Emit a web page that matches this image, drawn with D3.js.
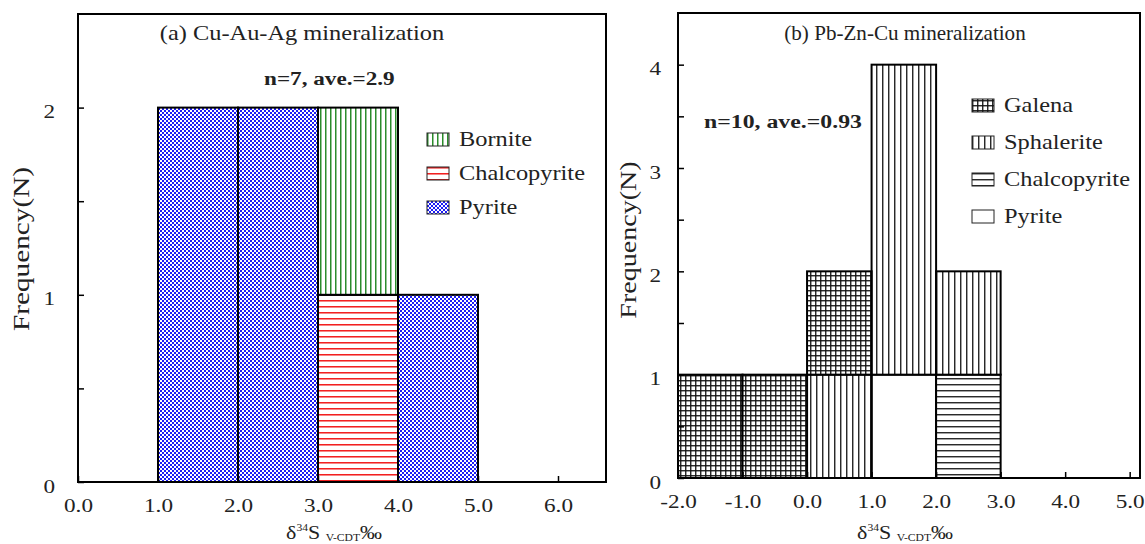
<!DOCTYPE html>
<html>
<head>
<meta charset="utf-8">
<script src="https://cdn.jsdelivr.net/npm/d3@7"></script>
<style>
  body { margin: 0; background: #fff; }
  text { font-family: "Liberation Serif", "DejaVu Serif", serif; fill: #222; }
</style>
</head>
<body>
<script>
// panel (a) Cu-Au-Ag mineralization, bins of 1 per mil
var aBinStarts = [1, 2, 3, 4];
var aChalcopyrite = [0, 0, 1, 0];
var aBornite = [0, 0, 1, 0];
var aPyrite = [2, 2, 0, 1];
var aXTicks = [0, 1, 2, 3, 4, 5, 6];
var aYTicks = [0, 0.5, 1, 1.5, 2];

// panel (b) Pb-Zn-Cu mineralization
var bBinStarts = [-2, -1, 0, 1, 2];
var bPyrite = [0, 0, 0, 1, 0];
var bChalcopyrite = [0, 0, 0, 0, 1];
var bSphalerite = [0, 0, 1, 3, 1];
var bGalena = [1, 1, 1, 0, 0];
var bXTicks = [-2, -1, 0, 1, 2, 3, 4, 5];
var bYTicks = [0, 0.5, 1, 1.5, 2, 2.5, 3, 3.5, 4];

var SX = 1.22; // the original lettering is a little wider than Liberation Serif

window.onload = function(){
    var svg = d3.select("body").append("svg")
        .attr("width", 1145)
        .attr("height", 544);

    var defs = svg.append("defs");

    // fill patterns
    function linePattern(id, color, step, dir, width){
        var p = defs.append("pattern").attr("id", id)
            .attr("patternUnits", "userSpaceOnUse")
            .attr("width", step).attr("height", step);
        p.append("rect").attr("width", step).attr("height", step).attr("fill", "#fff");
        if (dir === "v" || dir === "grid")
            p.append("line").attr("x1", 0.75).attr("x2", 0.75).attr("y1", 0).attr("y2", step)
                .attr("stroke", color).attr("stroke-width", width);
        if (dir === "h" || dir === "grid")
            p.append("line").attr("y1", 0.75).attr("y2", 0.75).attr("x1", 0).attr("x2", step)
                .attr("stroke", color).attr("stroke-width", width);
    }
    linePattern("bornite", "#2b8c2b", 5, "v", 1.5);
    linePattern("chalcoRed", "#f22020", 6, "h", 1.6);
    linePattern("galena", "#111", 5, "grid", 1.3);
    linePattern("sphalerite", "#111", 6, "v", 1.3);
    linePattern("chalcoBlack", "#111", 6, "h", 1.3);
    linePattern("white", "#fff", 4, "none", 0);

    var checker = defs.append("pattern").attr("id", "pyriteBlue")
        .attr("patternUnits", "userSpaceOnUse").attr("width", 4).attr("height", 4);
    checker.append("rect").attr("width", 4).attr("height", 4).attr("fill", "#1c1cf5");
    checker.append("rect").attr("width", 2).attr("height", 2).attr("fill", "#fff");
    checker.append("rect").attr("x", 2).attr("y", 2).attr("width", 2).attr("height", 2).attr("fill", "#fff");

    // put a text at x,y stretched horizontally
    function label(g, x, y, size, str, anchor, rot, sx){
        return g.append("text")
            .attr("transform", "translate(" + x + "," + y + ")" + (rot ? " rotate(" + rot + ")" : "") + " scale(" + (sx || SX) + ",1)")
            .attr("text-anchor", anchor || "start")
            .style("font-size", size + "px")
            .text(str);
    }

    function drawPanel(cfg){
        var x = d3.scaleLinear().domain(cfg.xDomain).range([cfg.left, cfg.right]);
        var y = d3.scaleLinear().domain(cfg.yDomain).range([cfg.bottom, cfg.top]);
        var g = svg.append("g");

        // stacked histogram bars
        var rows = cfg.bins.map(function(b, i){
            var r = {start: b};
            cfg.series.forEach(function(s){ r[s.key] = s.values[i]; });
            return r;
        });
        var stack = d3.stack().keys(cfg.series.map(function(s){ return s.key; }))(rows);
        stack.forEach(function(layer, li){
            g.selectAll(".bar" + li)
                .data(layer.filter(function(d){ return d[1] > d[0]; }))
                .enter().append("rect")
                .attr("x", function(d){ return x(d.data.start); })
                .attr("width", function(d){ return x(d.data.start + 1) - x(d.data.start); })
                .attr("y", function(d){ return y(d[1]); })
                .attr("height", function(d){ return y(d[0]) - y(d[1]); })
                .attr("fill", "url(#" + cfg.series[li].pattern + ")")
                .attr("stroke", "#000")
                .attr("stroke-width", 2);
        });

        // axes with inward ticks
        var xAxis = d3.axisBottom(x).tickValues(cfg.xTicks).tickSize(-6).tickPadding(0)
            .tickFormat(function(d){ return d.toFixed(1); });
        var gx = g.append("g").attr("transform", "translate(0," + cfg.bottom + ")").call(xAxis);
        var yAxis = d3.axisLeft(y).tickValues(cfg.yTicks).tickSize(-6).tickPadding(0)
            .tickFormat(function(d){ return d % 1 === 0 ? d : ""; });
        var gy = g.append("g").attr("transform", "translate(" + cfg.left + ",0)").call(yAxis);
        [gx, gy].forEach(function(a){
            a.select(".domain").remove();
            a.selectAll(".tick line").attr("stroke", "#000").attr("stroke-width", 1.5);
            a.selectAll(".tick text").style("font-family", "Liberation Serif")
                .style("font-size", "19px").attr("fill", "#222");
        });
        gx.selectAll(".tick text").attr("y", 0).attr("dy", 0)
            .attr("transform", "translate(0,30) scale(" + SX + ",1)");
        gy.selectAll(".tick text").attr("x", 0).attr("dy", 0)
            .attr("transform", "translate(" + (-cfg.yPad) + ",10) scale(" + SX + ",1)");

        // frame
        g.append("rect")
            .attr("x", cfg.left).attr("y", cfg.top)
            .attr("width", cfg.right - cfg.left).attr("height", cfg.bottom - cfg.top)
            .attr("fill", "none").attr("stroke", "#000").attr("stroke-width", 2);

        // titles
        label(g, cfg.titleX, 40, cfg.titleSize, cfg.title, "middle", 0, cfg.titleSX);
        label(g, cfg.noteX, cfg.noteY, cfg.noteSize, cfg.note).style("font-weight", "bold");

        // y axis label
        label(g, cfg.yLabelX, cfg.yLabelY, cfg.yLabelSize, "Frequency(N)", "middle", -90);

        // x axis label: delta 34 S V-CDT per mil
        var xl = label(g, cfg.xLabelX, 539, 18, "", "middle");
        xl.append("tspan").text("δ");
        xl.append("tspan").attr("dy", -8).style("font-size", "9.5px").text("34");
        xl.append("tspan").attr("dy", 8).text("S ");
        xl.append("tspan").attr("dy", 2).style("font-size", "9.5px").text("V-CDT");
        xl.append("tspan").attr("dy", -2).text("‰");

        // legend
        var leg = g.selectAll(".leg").data(cfg.legend).enter().append("g")
            .attr("transform", function(d, i){ return "translate(" + cfg.legX + "," + (cfg.legY + i * cfg.legStep) + ")"; });
        leg.append("rect").attr("x", 0).attr("y", -6).attr("width", 22).attr("height", 13)
            .attr("fill", function(d){ return "url(#" + d.pattern + ")"; })
            .attr("stroke", "#222").attr("stroke-width", 1);
        leg.each(function(d){ label(d3.select(this), 32, 7, 20, d.name); });
    }

    drawPanel({
        left: 78, right: 606, top: 14, bottom: 482,
        xDomain: [0, 6.6], yDomain: [0, 2.5],
        xTicks: aXTicks, yTicks: aYTicks, yPad: 23,
        bins: aBinStarts,
        series: [
            {key: "Chalcopyrite", values: aChalcopyrite, pattern: "chalcoRed"},
            {key: "Bornite", values: aBornite, pattern: "bornite"},
            {key: "Pyrite", values: aPyrite, pattern: "pyriteBlue"}
        ],
        legend: [
            {name: "Bornite", pattern: "bornite"},
            {name: "Chalcopyrite", pattern: "chalcoRed"},
            {name: "Pyrite", pattern: "pyriteBlue"}
        ],
        legX: 427, legY: 139, legStep: 34,
        title: "(a) Cu-Au-Ag mineralization", titleX: 302, titleSize: 20, titleSX: SX,
        note: "n=7, ave.=2.9", noteX: 264, noteY: 85, noteSize: 19,
        yLabelX: 29, yLabelY: 249, yLabelSize: 24, xLabelX: 334
    });

    drawPanel({
        left: 678, right: 1140, top: 13, bottom: 478,
        xDomain: [-2, 5.16], yDomain: [0, 4.5],
        xTicks: bXTicks, yTicks: bYTicks, yPad: 17,
        bins: bBinStarts,
        series: [
            {key: "Pyrite", values: bPyrite, pattern: "white"},
            {key: "Chalcopyrite", values: bChalcopyrite, pattern: "chalcoBlack"},
            {key: "Sphalerite", values: bSphalerite, pattern: "sphalerite"},
            {key: "Galena", values: bGalena, pattern: "galena"}
        ],
        legend: [
            {name: "Galena", pattern: "galena"},
            {name: "Sphalerite", pattern: "sphalerite"},
            {name: "Chalcopyrite", pattern: "chalcoBlack"},
            {name: "Pyrite", pattern: "white"}
        ],
        legX: 972, legY: 105, legStep: 37,
        title: "(b) Pb-Zn-Cu mineralization", titleX: 905, titleSize: 20.5, titleSX: 1.03,
        note: "n=10, ave.=0.93", noteX: 704, noteY: 128, noteSize: 19.5,
        yLabelX: 636, yLabelY: 240, yLabelSize: 23, xLabelX: 905
    });
};
</script>
</body>
</html>
